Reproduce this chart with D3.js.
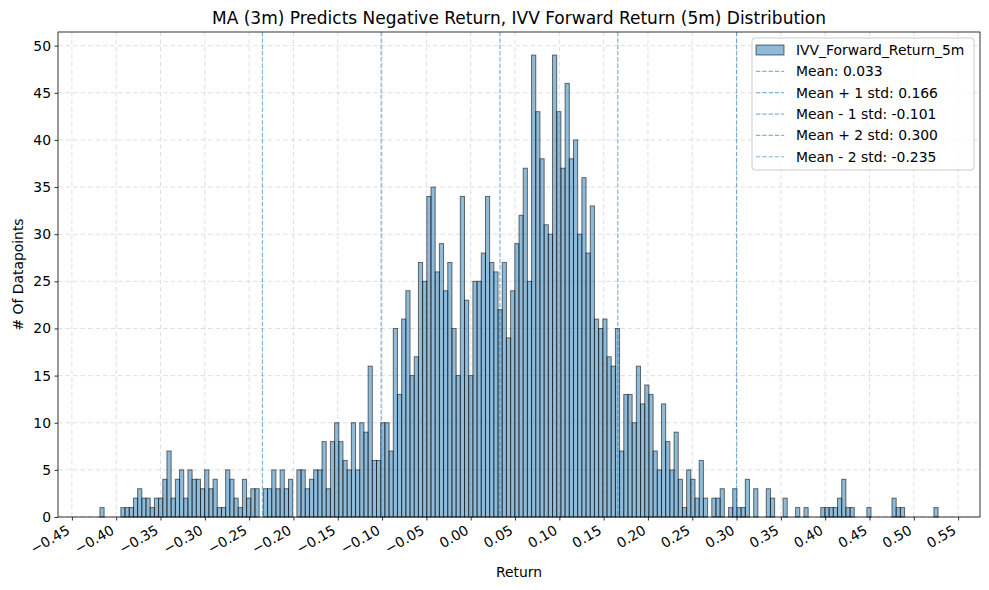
<!DOCTYPE html>
<html>
<head>
<meta charset="utf-8">
<script src="https://cdn.jsdelivr.net/npm/d3@7"></script>
<style>
  body { margin: 0; background: #fff; }
  text { font-family: "DejaVu Sans", sans-serif; fill: #000; }
</style>
</head>
<body>
<svg id="chart" width="989" height="590"></svg>
<script>
// DATA
const binStart = -0.4184;
const binEnd = 0.5274;
const counts = [
  1, 0, 0, 0, 0, 1, 1, 1, 2, 3, 2, 2, 1, 2, 2, 4, 7, 2, 4, 5,
  2, 5, 4, 4, 3, 5, 3, 4, 1, 1, 5, 4, 2, 1, 4, 2, 3, 3, 0, 3,
  3, 5, 3, 5, 3, 4, 0, 5, 5, 3, 4, 5, 5, 8, 3, 8, 10, 8, 6, 5,
  10, 5, 10, 9, 16, 6, 6, 10, 10, 7, 20, 13, 21, 24, 15, 17, 27, 25, 34, 35,
  26, 29, 24, 27, 20, 15, 34, 23, 15, 25, 25, 28, 34, 27, 26, 22, 27, 19, 24, 29,
  32, 37, 25, 49, 43, 38, 31, 30, 49, 43, 37, 46, 38, 40, 30, 36, 28, 33, 21, 20,
  21, 17, 16, 20, 7, 13, 13, 10, 16, 12, 14, 13, 7, 5, 12, 8, 5, 9, 4, 1,
  5, 4, 2, 6, 2, 0, 2, 2, 3, 0, 1, 3, 1, 1, 4, 0, 3, 0, 0, 3,
  2, 0, 0, 2, 0, 0, 1, 0, 1, 0, 0, 0, 1, 1, 1, 1, 2, 4, 1, 1,
  0, 0, 0, 1, 0, 0, 0, 0, 0, 2, 1, 1, 0, 0, 0, 0, 0, 0, 0, 1
];
const statLabels = ["Mean: 0.033", "Mean + 1 std: 0.166", "Mean - 1 std: -0.101",
                    "Mean + 2 std: 0.300", "Mean - 2 std: -0.235"];
const statValues = [0.033, 0.166, -0.101, 0.300, -0.235];
const xTicks = d3.range(-0.45, 0.5501, 0.05).map((d) => +d.toFixed(2));
const yTicks = d3.range(0, 51, 5);
const seriesName = "IVV_Forward_Return_5m";

// CANVAS SETUP
const svg = d3.select("#chart");
const margin = { top: 32, right: 9, bottom: 73, left: 58 },
  width = 989 - margin.left - margin.right,
  height = 590 - margin.top - margin.bottom;

const g = svg.append("g").attr("transform", `translate(${margin.left},${margin.top})`);

const binW = (binEnd - binStart) / counts.length;
const bins = counts.map((c, i) => ({ x0: binStart + i * binW, x1: binStart + (i + 1) * binW, n: c }));

const pad = (binEnd - binStart) * 0.05;
const xScale = d3.scaleLinear().domain([binStart - pad, binEnd + pad]).range([0, width]);
const yScale = d3.scaleLinear().domain([0, d3.max(counts) * 1.05]).range([height, 0]);

const blue = "#1f77b4";

// grid
g.append("g")
  .selectAll("line")
  .data(xTicks)
  .join("line")
  .attr("x1", (d) => xScale(d)).attr("x2", (d) => xScale(d))
  .attr("y1", 0).attr("y2", height)
  .attr("stroke", "#b0b0b0").attr("stroke-opacity", 0.5)
  .attr("stroke-width", 0.8).attr("stroke-dasharray", "4.5,3");
g.append("g")
  .selectAll("line")
  .data(yTicks)
  .join("line")
  .attr("y1", (d) => yScale(d)).attr("y2", (d) => yScale(d))
  .attr("x1", 0).attr("x2", width)
  .attr("stroke", "#b0b0b0").attr("stroke-opacity", 0.5)
  .attr("stroke-width", 0.8).attr("stroke-dasharray", "4.5,3");

// bars
g.append("g")
  .selectAll("rect")
  .data(bins.filter((d) => d.n > 0))
  .join("rect")
  .attr("x", (d) => xScale(d.x0))
  .attr("width", (d) => xScale(d.x1) - xScale(d.x0))
  .attr("y", (d) => yScale(d.n))
  .attr("height", (d) => yScale(0) - yScale(d.n))
  .attr("fill", blue).attr("fill-opacity", 0.5)
  .attr("stroke", "#000").attr("stroke-opacity", 0.55).attr("stroke-width", 1);

// mean / std lines
g.append("g")
  .selectAll("line")
  .data(statValues)
  .join("line")
  .attr("x1", (d) => xScale(d)).attr("x2", (d) => xScale(d))
  .attr("y1", 0).attr("y2", height)
  .attr("stroke", blue).attr("stroke-opacity", 0.55)
  .attr("stroke-width", 1.2).attr("stroke-dasharray", "4.4,1.9");

// axes
const gx = g.append("g").attr("transform", `translate(0,${height})`)
  .call(d3.axisBottom(xScale).tickValues(xTicks).tickFormat(d3.format(".2f")).tickSize(3.5).tickPadding(3.5));
gx.select(".domain").remove();
gx.selectAll("line").attr("stroke-width", 0.8);
gx.selectAll("text")
  .attr("font-size", 13.9)
  .attr("text-anchor", "end")
  .attr("dy", null).attr("y", null)
  .attr("transform", "translate(-1.5,16) rotate(-30)");

const gy = g.append("g")
  .call(d3.axisLeft(yScale).tickValues(yTicks).tickSize(3.5).tickPadding(3.5));
gy.select(".domain").remove();
gy.selectAll("line").attr("stroke-width", 0.8);
gy.selectAll("text").attr("font-size", 13.9);

// frame
g.append("rect")
  .attr("width", width).attr("height", height)
  .attr("fill", "none").attr("stroke", "#000").attr("stroke-width", 0.8);

// labels
svg.append("text")
  .attr("x", margin.left + width / 2).attr("y", 24)
  .attr("text-anchor", "middle").attr("font-size", 17)
  .text("MA (3m) Predicts Negative Return, IVV Forward Return (5m) Distribution");
svg.append("text")
  .attr("x", margin.left + width / 2).attr("y", 577)
  .attr("text-anchor", "middle").attr("font-size", 13.9)
  .text("Return");
svg.append("text")
  .attr("transform", `translate(23,${margin.top + height / 2}) rotate(-90)`)
  .attr("text-anchor", "middle").attr("font-size", 13.9)
  .text("# Of Datapoints");

// legend
const lg = svg.append("g").attr("transform", "translate(752,38)");
lg.append("rect")
  .attr("width", 222).attr("height", 132).attr("rx", 3)
  .attr("fill", "#fff").attr("fill-opacity", 0.8)
  .attr("stroke", "#ccc").attr("stroke-width", 1);
const rowY = (i) => 12 + i * 21.35;
lg.append("rect")
  .attr("x", 4).attr("y", rowY(0) - 5).attr("width", 28).attr("height", 10)
  .attr("fill", blue).attr("fill-opacity", 0.5)
  .attr("stroke", "#000").attr("stroke-opacity", 0.55);
lg.append("text").attr("x", 44).attr("y", rowY(0)).attr("dy", "0.35em")
  .attr("font-size", 13.9).text(seriesName);
statLabels.forEach((s, k) => {
  lg.append("line")
    .attr("x1", 4).attr("x2", 32).attr("y1", rowY(k + 1)).attr("y2", rowY(k + 1))
    .attr("stroke", blue).attr("stroke-opacity", 0.55)
    .attr("stroke-width", 1.2).attr("stroke-dasharray", "4.4,1.9");
  lg.append("text").attr("x", 44).attr("y", rowY(k + 1)).attr("dy", "0.35em")
    .attr("font-size", 13.9).text(s);
});
</script>
</body>
</html>
